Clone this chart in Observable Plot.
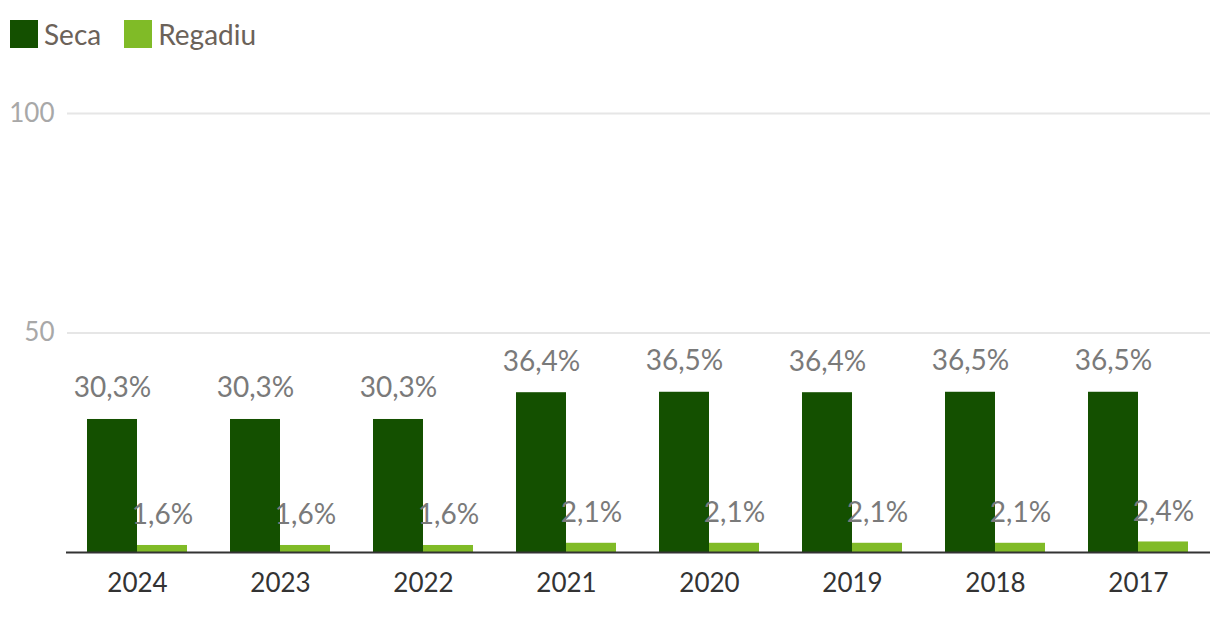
<!DOCTYPE html>
<html>
<head>
<meta charset="utf-8">
<script src="https://cdn.jsdelivr.net/npm/d3@7"></script>
<script src="https://cdn.jsdelivr.net/npm/@observablehq/plot@0.6"></script>
<style>
  html, body { margin: 0; padding: 0; background: #fff; }
  body { width: 1220px; height: 628px; overflow: hidden; font-family: Lato, "Noto Sans", sans-serif; }
  #legend { height: 66px; display: flex; align-items: flex-start; padding-left: 10px; box-sizing: border-box; padding-top: 20px; }
  .item { display: flex; align-items: center; margin-right: 23px; font-size: 28px; color: #6b6259; line-height: 28px; }
  .sw { width: 28px; height: 28px; margin-right: 6px; }
</style>
</head>
<body>
<div id="legend"></div>
<div id="chart"></div>
<script>
const years = ["2024", "2023", "2022", "2021", "2020", "2019", "2018", "2017"];
const seca = [30.3, 30.3, 30.3, 36.4, 36.5, 36.4, 36.5, 36.5];
const regadiu = [1.6, 1.6, 1.6, 2.1, 2.1, 2.1, 2.1, 2.4];
const seriesNames = ["Seca", "Regadiu"];
const seriesColors = ["#145000", "#80bb27"];
const yTicks = [50, 100];

const legend = document.getElementById("legend");
seriesNames.forEach((n, i) => {
  const it = document.createElement("div");
  it.className = "item";
  it.innerHTML = `<div class="sw" style="background:${seriesColors[i]}"></div><span>${n}</span>`;
  legend.appendChild(it);
});

const secaData = years.map((y, i) => ({year: y, value: seca[i]}));
const regData = years.map((y, i) => ({year: y, value: regadiu[i]}));
const fmt = v => v.toFixed(1).replace(".", ",") + "%";

const chart = Plot.plot({
  width: 1220,
  height: 562,
  marginLeft: 66,
  marginRight: 10,
  marginTop: 47,
  marginBottom: 76,
  style: {fontFamily: "Lato, 'Noto Sans', sans-serif", background: "#fff"},
  x: {domain: years, paddingInner: 0.3, paddingOuter: 0.15, label: null},
  y: {domain: [0, 100], label: null},
  marks: [
    Plot.ruleY(yTicks, {stroke: "#e6e6e6", strokeWidth: 2, insetLeft: 1}),
    Plot.axisY({ticks: yTicks, tickSize: 0, tickPadding: 12, fontSize: 26, fill: "#a8a8a8", label: null}),
    Plot.axisX({tickSize: 0, tickPadding: 21, fontSize: 26, fill: "#333", label: null}),
    Plot.barY(secaData, {x: "year", y: "value", fill: seriesColors[0], insetRight: 50}),
    Plot.barY(regData, {x: "year", y: "value", fill: seriesColors[1], insetLeft: 50}),
    Plot.ruleY([0], {stroke: "#333", strokeWidth: 2}),
    Plot.text(secaData, {x: "year", y: "value", text: d => fmt(d.value), dx: -25, dy: -31, fontSize: 28, fill: "#7a7a7a"}),
    Plot.text(regData, {x: "year", y: "value", text: d => fmt(d.value), dx: 25, dy: -30, fontSize: 28, fill: "#7a7a7a"})
  ]
});
document.getElementById("chart").appendChild(chart);
</script>
</body>
</html>
